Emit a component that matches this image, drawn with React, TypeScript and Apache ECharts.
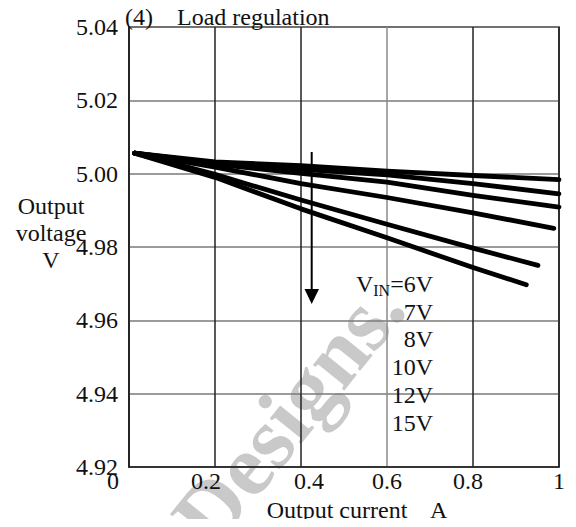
import React, { useEffect, useRef } from "react";
import * as echarts from "echarts";

const xTicks = [0, 0.2, 0.4, 0.6, 0.8, 1];
const yTicks = [4.92, 4.94, 4.96, 4.98, 5.0, 5.02, 5.04];
const seriesNames = ["6V", "7V", "8V", "10V", "12V", "15V"];
const legendLabels = ["VIN=6V", "7V", "8V", "10V", "12V", "15V"];
const current6V = [0.013, 0.2, 0.4, 0.6, 0.8, 1.0];
const volt6V = [5.0056, 5.0032, 5.0022, 5.0007, 4.9995, 4.9984];
const current7V = [0.013, 0.2, 0.4, 0.6, 0.8, 1.0];
const volt7V = [5.0056, 5.0029, 5.0012, 4.9997, 4.9973, 4.9945];
const current8V = [0.013, 0.2, 0.4, 0.6, 0.8, 1.0];
const volt8V = [5.0056, 5.0026, 5.0001, 4.9977, 4.9941, 4.9909];
const current10V = [0.013, 0.2, 0.4, 0.6, 0.8, 0.988];
const volt10V = [5.0056, 5.0018, 4.9973, 4.9935, 4.9893, 4.9851];
const current12V = [0.013, 0.2, 0.4, 0.6, 0.8, 0.951];
const volt12V = [5.0056, 4.9998, 4.9928, 4.9862, 4.9797, 4.975];
const current15V = [0.013, 0.2, 0.4, 0.6, 0.8, 0.924];
const volt15V = [5.0056, 4.999, 4.9904, 4.9825, 4.9744, 4.9697];

const FONT = "'Liberation Serif', 'Times New Roman', serif";
const FS = 24;

export default function App() {
  const ref = useRef<HTMLDivElement>(null);
  useEffect(() => {
    if (!ref.current) return;
    const chart = echarts.init(ref.current, undefined, { renderer: "svg" });
    const currents = [current6V, current7V, current8V, current10V, current12V, current15V];
    const volts = [volt6V, volt7V, volt8V, volt10V, volt12V, volt15V];
    const series = seriesNames.map((name, i) => ({
      name,
      type: "line",
      data: currents[i].map((c, j) => [c, volts[i][j]]),
      showSymbol: false,
      symbol: "none",
      smooth: false,
      lineStyle: { color: "#000", width: 4.8, cap: "round", join: "round" },
      z: 5,
    }));
    const xShift: Record<string, string> = { "0": "s0", "0.2": "s2", "0.4": "s4", "0.8": "s8" };
    const legendYs = [284, 312, 339, 367, 395, 423];
    const legendGraphics = legendLabels.map((lab, i) => {
      if (i === 0) {
        return {
          type: "text",
          x: 433,
          y: legendYs[i],
          z: 10,
          style: {
            text: "{v|V}{sub|IN}{v|=6V}",
            align: "right",
            verticalAlign: "middle",
            fill: "#111",
            font: `${FS}px ${FONT}`,
            rich: {
              v: { fontSize: FS, fontFamily: FONT, fill: "#111" },
              sub: { fontSize: 16, fontFamily: FONT, fill: "#111", padding: [13, 0, 0, 0] },
            },
          },
        };
      }
      return {
        type: "text",
        x: 433,
        y: legendYs[i],
        z: 10,
        style: {
          text: lab,
          align: "right",
          verticalAlign: "middle",
          fill: "#111",
          font: `${FS}px ${FONT}`,
        },
      };
    });
    const richX = (pl: number, pr: number) => ({
      fontFamily: FONT,
      fontSize: FS,
      color: "#111",
      padding: [0, pr, 0, pl],
    });
    chart.setOption({
      animation: false,
      backgroundColor: "#fff",
      title: {
        text: "(4)    Load regulation",
        left: 120,
        top: 0,
        textStyle: { fontFamily: FONT, fontSize: FS, fontWeight: "normal", color: "#111" },
      },
      grid: {
        left: 129,
        right: 17,
        top: 27,
        bottom: 60,
        show: true,
        borderColor: "#222",
        borderWidth: 1.5,
      },
      xAxis: {
        type: "value",
        min: xTicks[0],
        max: xTicks[xTicks.length - 1],
        interval: 0.2,
        name: "Output current    A",
        nameLocation: "middle",
        nameGap: 31,
        nameTextStyle: { fontFamily: FONT, fontSize: FS, color: "#111", padding: [0, 0, 0, 26] },
        axisLine: { show: true, lineStyle: { color: "#222", width: 1.5 } },
        axisTick: { show: false },
        axisLabel: {
          margin: 2,
          fontFamily: FONT,
          fontSize: FS,
          color: "#111",
          formatter: (v: number) => {
            const s = String(Math.round(v * 10) / 10);
            const k = xShift[s];
            return k ? `{${k}|${s}}` : s;
          },
          rich: {
            s0: richX(0, 32),
            s2: richX(0, 18),
            s4: richX(16, 0),
            s8: richX(0, 10),
          },
        },
        splitLine: {
          show: true,
          lineStyle: { color: ["#222", "#222", "#222", "#8a8a8a", "#222", "#222"], width: 1.5 },
        },
      },
      yAxis: {
        type: "value",
        min: yTicks[0],
        max: yTicks[yTicks.length - 1],
        interval: 0.02,
        axisLine: { show: true, lineStyle: { color: "#222", width: 1.5 } },
        axisTick: { show: false },
        axisLabel: {
          margin: 11,
          fontFamily: FONT,
          fontSize: FS,
          color: "#111",
          formatter: (v: number) => v.toFixed(2),
        },
        splitLine: { show: true, lineStyle: { color: "#7a7a7a", width: 1.5 } },
      },
      graphic: [
        {
          type: "text",
          x: 386,
          y: 292,
          rotation: (51 * Math.PI) / 180,
          z: -1,
          silent: true,
          style: {
            text: "Designs.",
            align: "right",
            verticalAlign: "middle",
            fill: "#c9c9c9",
            font: `bold 88px ${FONT}`,
          },
        },
        {
          type: "text",
          x: 51,
          y: 233,
          z: 10,
          style: {
            text: "Output\nvoltage\nV",
            align: "center",
            verticalAlign: "middle",
            lineHeight: 27,
            fill: "#111",
            font: `${FS}px ${FONT}`,
          },
        },
        {
          type: "line",
          z: 10,
          shape: { x1: 311.7, y1: 152, x2: 311.7, y2: 292 },
          style: { stroke: "#000", lineWidth: 2 },
        },
        {
          type: "polygon",
          z: 10,
          shape: { points: [[304.5, 289], [319, 289], [311.7, 304]] },
          style: { fill: "#000" },
        },
        ...legendGraphics,
      ],
      series,
    });
    return () => chart.dispose();
  }, []);
  return <div ref={ref} style={{ width: 576, height: 527, margin: -8 }} />;
}
